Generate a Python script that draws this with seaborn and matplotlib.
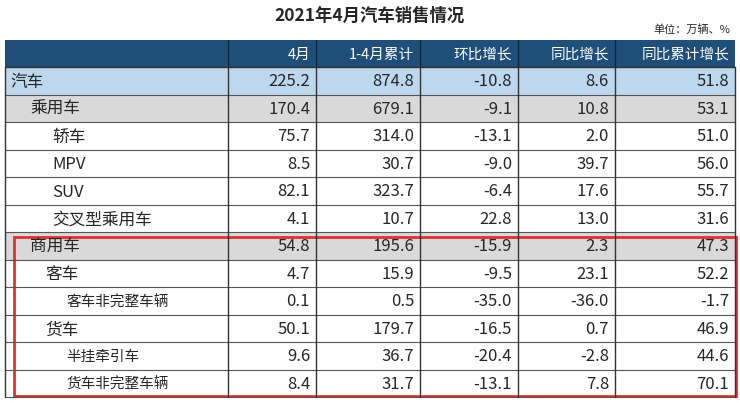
import matplotlib
matplotlib.use("Agg")
import matplotlib.pyplot as plt
import seaborn as sns
from matplotlib.patches import Rectangle

sns.set_theme(style="white")
plt.rcParams['font.family'] = ['Noto Sans CJK SC', 'DejaVu Sans']

columns = ["4月", "1-4月累计", "环比增长", "同比增长", "同比累计增长"]
categories = ["汽车", "乘用车", "轿车", "MPV", "SUV", "交叉型乘用车", "商用车", "客车",
              "客车非完整车辆", "货车", "半挂牵引车", "货车非完整车辆"]
indent = [0, 1, 2, 2, 2, 2, 1, 4, 3, 4, 3, 3]
apr = [225.2, 170.4, 75.7, 8.5, 82.1, 4.1, 54.8, 4.7, 0.1, 50.1, 9.6, 8.4]
cum = [874.8, 679.1, 314.0, 30.7, 323.7, 10.7, 195.6, 15.9, 0.5, 179.7, 36.7, 31.7]
mom = [-10.8, -9.1, -13.1, -9.0, -6.4, 22.8, -15.9, -9.5, -35.0, -16.5, -20.4, -13.1]
yoy = [8.6, 10.8, 2.0, 39.7, 17.6, 13.0, 2.3, 23.1, -36.0, 0.7, -2.8, 7.8]
yoy_cum = [51.8, 53.1, 51.0, 56.0, 55.7, 31.6, 47.3, 52.2, -1.7, 46.9, 44.6, 70.1]
row_fill = ["#BDD7EE", "#D9D9D9"] + ["white"] * 4 + ["#D9D9D9"] + ["white"] * 5

fig = plt.figure(figsize=(7.4, 4.03), dpi=100)
ax = fig.add_axes([0, 0, 1, 1])
ax.set_xlim(0, 740)
ax.set_ylim(403, 0)
ax.axis("off")

xs = [5, 228, 316, 420, 518, 615, 735]
htop, hbot, rh = 40, 67, 27.5
indent_x = [10, 30, 52, 66, 45]

ax.text(370, 16, "2021年4月汽车销售情况", ha="center", va="center", fontsize=12.5, fontweight="bold")
ax.text(730, 30, "单位：万辆、%", ha="right", va="center", fontsize=8)

ax.add_patch(Rectangle((xs[0], htop), xs[-1] - xs[0], hbot - htop, color="#1F4E79", lw=0))
for j, c in enumerate(columns):
    ax.text(xs[j + 2] - 6, (htop + hbot) / 2 + 1, c, ha="right", va="center", color="white", fontsize=10.5)
for j in range(1, 6):
    ax.plot([xs[j], xs[j]], [htop, hbot], color="#0d2a45", lw=1)

vals = list(zip(apr, cum, mom, yoy, yoy_cum))
for i, cat in enumerate(categories):
    y0 = hbot + i * rh
    ax.add_patch(Rectangle((xs[0], y0), xs[-1] - xs[0], rh, facecolor=row_fill[i], lw=0))
    ax.plot([xs[0], xs[-1]], [y0 + rh, y0 + rh], color="#555555", lw=0.8)
    ax.text(indent_x[indent[i]], y0 + rh / 2 + 1.5, cat, ha="left", va="center",
            fontsize=12 if indent[i] != 3 else 10.5)
    for j, v in enumerate(vals[i]):
        ax.text(xs[j + 2] - 6, y0 + rh / 2 + 1, f"{v:.1f}", ha="right", va="center", fontsize=12)
ybot = hbot + len(categories) * rh
for j in range(0, 7):
    ax.plot([xs[j], xs[j]], [hbot, ybot], color="#333333", lw=1)
ax.plot([xs[0], xs[-1]], [hbot, hbot], color="#333333", lw=1)

rt = hbot + 6 * rh + 5
ax.add_patch(Rectangle((14, rt), 722, ybot - rt - 1, fill=False, edgecolor="#E03030", lw=2))

fig.savefig("out.png", dpi=100)
